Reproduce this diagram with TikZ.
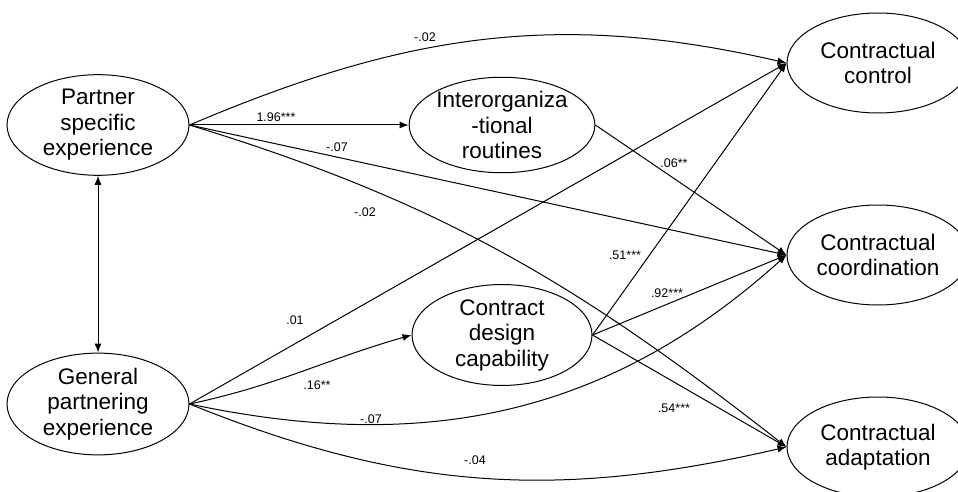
\documentclass[tikz,border=0pt]{standalone}
\usepackage{fontspec}
\setmainfont{Liberation Sans}
\usetikzlibrary{shapes.geometric,arrows.meta}
\begin{document}
\begin{tikzpicture}[x=1pt,y=-1pt,
  construct/.style={draw,line width=1pt,ellipse,inner sep=0pt,align=center,
    font=\fontsize{22.5}{25.5}\selectfont},
  path/.style={line width=1pt,-{Latex[length=9pt,width=7pt]}},
  coef/.style={font=\fontsize{12.5}{12.5}\selectfont,inner sep=0pt}]
\useasboundingbox (0,0) rectangle (958,492);
\fill[white] (0,0) rectangle (958,492);
\node[construct,minimum width=182pt,minimum height=96pt] (pse) at (98,125) {Partner\\specific\\experience};
\node[construct,minimum width=182pt,minimum height=98pt] (gpe) at (98,404) {General\\partnering\\experience};
\node[construct,minimum width=181pt,minimum height=84pt] (ir) at (502,125) {Interorganiza\\-tional\\routines};
\node[construct,minimum width=180pt,minimum height=100pt] (cdc) at (502,335) {Contract\\design\\capability};
\node[construct,minimum width=182pt,minimum height=100pt] (cc) at (878,63) {Contractual\\control};
\node[construct,minimum width=182pt,minimum height=100pt] (cco) at (878,255) {Contractual\\coordination};
\node[construct,minimum width=182pt,minimum height=100pt] (ca) at (878,447) {Contractual\\adaptation};
% connectors
\draw[line width=1pt,{Latex[length=9pt,width=7pt]}-{Latex[length=9pt,width=7pt]}] (pse.south) -- (gpe.north);
\draw[path] (pse.east) to[out=23,in=167] (cc.west);
\draw[path] (pse.east) -- (ir.west);
\draw[path] (pse.east) -- (cco.west);
\draw[path] (pse.east) to[out=-17,in=142] (ca.west);
\draw[path] (ir.east) -- (cco.west);
\draw[path] (gpe.east) -- (cc.west);
\draw[path] (gpe.east) to[out=12,in=196] (cdc.west);
\draw[path] (gpe.east) to[out=-12,in=222] (cco.west);
\draw[path] (gpe.east) to[out=-22,in=193] (ca.west);
\draw[path] (cdc.east) -- (cc.west);
\draw[path] (cdc.east) -- (cco.west);
\draw[path] (cdc.east) -- (ca.west);
% coefficients
\node[coef] (l1) at (425,37) {-.02};
\node[coef] (l2) at (276,117) {1.96***};
\node[coef] (l3) at (337,147) {-.07};
\node[coef] (l4) at (365,212) {-.02};
\node[coef] (l5) at (674,163) {.06**};
\node[coef] (l6) at (625,255) {.51***};
\node[coef] (l7) at (667,293) {.92***};
\node[coef] (l8) at (295,320) {.01};
\node[coef] (l9) at (317,385) {.16**};
\node[coef] (l10) at (371,419) {-.07};
\node[coef] (l11) at (674,408) {.54***};
\node[coef] (l12) at (475,460) {-.04};
\end{tikzpicture}
\end{document}
